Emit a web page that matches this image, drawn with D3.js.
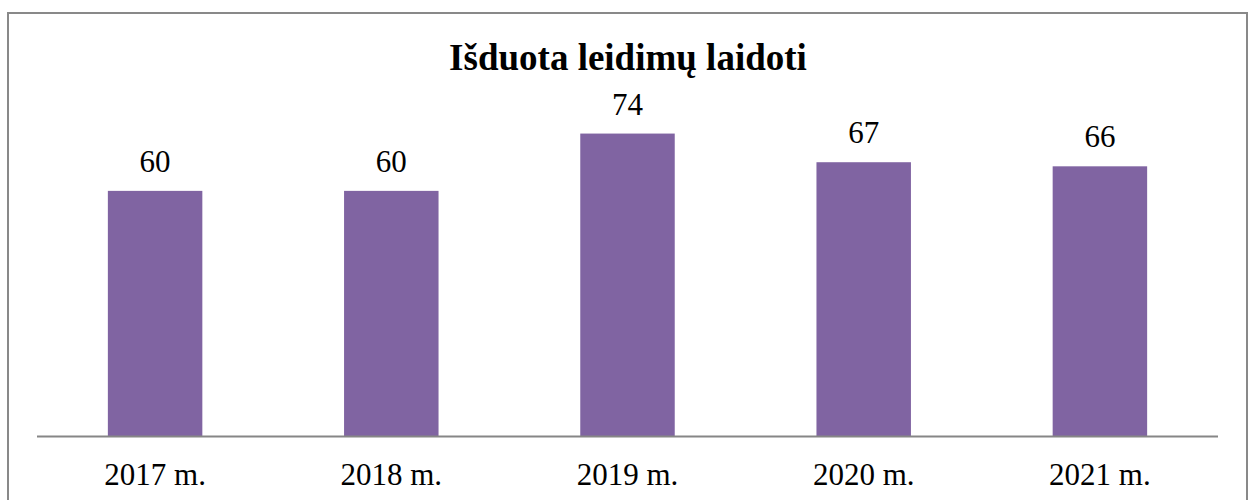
<!DOCTYPE html>
<html>
<head>
<meta charset="utf-8">
<script src="https://cdn.jsdelivr.net/npm/d3@7"></script>
<style>
  html, body { margin: 0; padding: 0; background: #fff; }
  svg { display: block; }
</style>
</head>
<body>
<svg id="chart"></svg>
<script>
// data
const years = ["2017 m.", "2018 m.", "2019 m.", "2020 m.", "2021 m."];
const permits = [60, 60, 74, 67, 66];
const chartTitle = "Išduota leidimų laidoti";

const width = 1251, height = 500;
const plot = {left: 37, right: 1218, bottom: 436.5, top: 109};
const serif = "'Liberation Serif', 'Times New Roman', serif";

let svg = d3.select("#chart")
	.attr("width", width)
	.attr("height", height);

// outer frame (bottom edge falls outside the window)
svg.append("rect")
	.attr("x", 8)
	.attr("y", 13)
	.attr("width", 1239)
	.attr("height", 520)
	.attr("fill", "none")
	.attr("stroke", "#898989")
	.attr("stroke-width", 2);

let x = d3.scaleBand()
	.domain(years)
	.range([plot.left, plot.right])
	.paddingInner(0.6)
	.paddingOuter(0.3);

let y = d3.scaleLinear()
	.domain([0, 80])
	.range([plot.bottom, plot.top]);

let rows = years.map((d, i) => ({name: d, value: permits[i]}));

svg.append("g")
	.selectAll("rect")
	.data(rows)
	.enter()
	.append("rect")
	.attr("x", d => x(d.name))
	.attr("y", d => y(d.value))
	.attr("width", x.bandwidth())
	.attr("height", d => y(0) - y(d.value))
	.attr("fill", "#8064a2");

// value labels
svg.append("g")
	.selectAll("text")
	.data(rows)
	.enter()
	.append("text")
	.attr("x", d => x(d.name) + x.bandwidth() / 2)
	.attr("y", d => y(d.value) - 19)
	.attr("text-anchor", "middle")
	.style("font-family", serif)
	.style("font-size", "31px")
	.style("fill", "#000")
	.text(d => d.value);

// category axis
let axis = svg.append("g")
	.attr("transform", "translate(0," + plot.bottom + ")")
	.call(d3.axisBottom(x).tickSize(0).tickPadding(0));

axis.select(".domain")
	.attr("stroke", "#868686")
	.attr("stroke-width", 2)
	.attr("d", "M" + plot.left + ",0H" + plot.right);

axis.selectAll("text")
	.attr("y", 48.5)
	.attr("dy", 0)
	.style("font-family", serif)
	.style("font-size", "31px")
	.style("fill", "#000");

svg.append("text")
	.attr("x", 628)
	.attr("y", 70)
	.attr("text-anchor", "middle")
	.style("font-family", serif)
	.style("font-weight", "bold")
	.style("font-size", "37px")
	.style("fill", "#000")
	.text(chartTitle);
</script>
</body>
</html>
